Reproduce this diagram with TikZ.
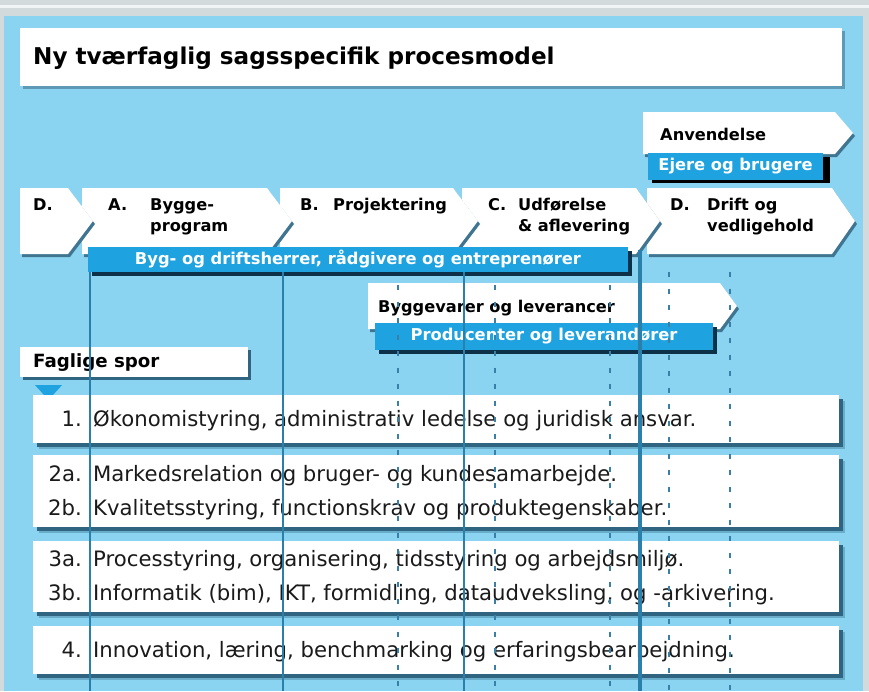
\documentclass[tikz,border=0pt]{standalone}
\usepackage{fontspec}
\setmainfont{DejaVu Sans}
\definecolor{framegray}{HTML}{D2DADC}
\definecolor{bgblue}{HTML}{8AD4F2}
\definecolor{barblue}{HTML}{1FA2E0}
\definecolor{barshadow}{HTML}{0D3148}
\definecolor{boxshadow}{HTML}{2F6580}
\definecolor{chshadow}{HTML}{3F7590}
\definecolor{titleshadow}{HTML}{5E9AB6}
\definecolor{lineteal}{HTML}{2A80AA}
\definecolor{dashteal}{HTML}{3A7FA6}
\definecolor{txt}{HTML}{1A1A1A}
\newcommand{\chevron}[5]{%
  \fill[chshadow] (#1+2,#4+3) -- (#2+2,#4+3) -- (#3+2,{(#4+#5)/2+3}) -- (#2+2,#5+3) -- (#1+2,#5+3) -- cycle;
  \fill[white] (#1,#4) -- (#2,#4) -- (#3,{(#4+#5)/2}) -- (#2,#5) -- (#1,#5) -- cycle;}
\begin{document}
\begin{tikzpicture}[x=1pt,y=-1pt,
  wbox/.style={fill=white, inner sep=0pt, outer sep=0pt, anchor=north west},
  bbar/.style={fill=barblue, inner sep=0pt, outer sep=0pt, anchor=north west, text=white, font=\bfseries\fontsize{16.3}{19}\selectfont},
  lab/.style={anchor=base west, inner sep=0pt, text=black, font=\bfseries\fontsize{16.2}{19}\selectfont},
  rowtxt/.style={anchor=base west, inner sep=0pt, text=txt, font=\fontsize{21.2}{24}\selectfont},
  rownum/.style={anchor=base east, inner sep=0pt, text=txt, font=\fontsize{21.2}{24}\selectfont},
  solidln/.style={draw=lineteal, line width=2.2pt},
  thickln/.style={draw=lineteal, line width=4pt},
  dashln/.style={draw=dashteal, line width=2.5pt, dash pattern=on 5pt off 11.5pt},
]
\useasboundingbox (0,0) rectangle (869,691);
% frame and background
\fill[framegray] (0,0) rectangle (869,691);
\fill[white!70!framegray] (0,5) rectangle (869,8);
\fill[bgblue] (4,16) rectangle (863,691);

% title
\fill[titleshadow] (23,31) rectangle (845,89);
\node[wbox, minimum width=822pt, minimum height=58pt] (titlebox) at (20,28) {};
\node[anchor=base west, inner sep=0pt, font=\bfseries\fontsize{23.1}{27}\selectfont] (title) at (33,64) {Ny tværfaglig sagsspecifik procesmodel};

% Anvendelse
\chevron{643}{835}{853}{112}{154}
\node[lab] (anv) at (660,140) {Anvendelse};
\fill[black] (652,157) rectangle (830,183);
\node[bbar, minimum width=175pt, minimum height=27pt] (ejere) at (648,153) {Ejere og brugere};

% phase chevrons (right to left so tips overlap)
\chevron{647}{832}{855}{188}{254}
\chevron{462}{636}{660}{188}{254}
\chevron{280}{453}{478}{188}{254}
\chevron{82}{267}{292}{188}{254}
\chevron{20}{68}{93}{188}{254}
\node[lab] (d1) at (33,210) {D.};
\node[lab] (a) at (108,210) {A.};
\node[lab] (a1) at (150,210) {Bygge-};
\node[lab] (a2) at (150,231) {program};
\node[lab] (b) at (300,210) {B.};
\node[lab] (b1) at (333,210) {Projektering};
\node[lab] (c) at (488,210) {C.};
\node[lab] (c1) at (518,210) {Udførelse};
\node[lab] (c2) at (518,231) {\& aflevering};
\node[lab] (d2) at (670,210) {D.};
\node[lab] (d21) at (707,210) {Drift og};
\node[lab] (d22) at (707,231) {vedligehold};

% Byg bar
\fill[barshadow] (92,251) rectangle (632,276);
\node[bbar, minimum width=540pt, minimum height=25pt] (byg) at (88,247) {Byg- og driftsherrer, rådgivere og entreprenører};

% Byggevarer
\chevron{368}{720}{737}{283}{329}
\node[lab] (bv) at (378,312) {Byggevarer og leverancer};
\fill[barshadow] (379,327) rectangle (717,354);
\node[bbar, minimum width=338pt, minimum height=27pt] (prod) at (375,323) {Producenter og leverandører};

% Faglige spor
\fill[boxshadow] (23,350) rectangle (251,380);
\node[wbox, minimum width=228pt, minimum height=30pt] (fagbox) at (20,347) {};
\node[anchor=base west, inner sep=0pt, font=\bfseries\fontsize{18.2}{21}\selectfont] (fag) at (33,367) {Faglige spor};
\fill[barblue] (35,385) -- (62,385) -- (48.5,400) -- cycle;

% rows
\foreach \t/\b in {395/443, 455/527, 541/612, 626/674}{
  \fill[boxshadow, opacity=.35] (39,\t+6) rectangle (845,\b+6);
  \fill[boxshadow] (37,\t+4) rectangle (843,\b+4);
  \fill[white] (33,\t) rectangle (839,\b);
}
\node[rownum] (n1) at (82,426) {1.};
\node[rowtxt] (t1) at (93,426) {Økonomistyring, administrativ ledelse og juridisk ansvar.};
\node[rownum] (n2a) at (82,481) {2a.};
\node[rowtxt] (t2a) at (93,481) {Markedsrelation og bruger- og kundesamarbejde.};
\node[rownum] (n2b) at (82,515) {2b.};
\node[rowtxt] (t2b) at (93,515) {Kvalitetsstyring, functionskrav og produktegenskaber.};
\node[rownum] (n3a) at (82,566) {3a.};
\node[rowtxt] (t3a) at (93,566) {Processtyring, organisering, tidsstyring og arbejdsmiljø.};
\node[rownum] (n3b) at (82,600) {3b.};
\node[rowtxt] (t3b) at (93,600) {Informatik (bim), IKT, formidling, dataudveksling, og -arkivering.};
\node[rownum] (n4) at (82,657) {4.};
\node[rowtxt] (t4) at (93,657) {Innovation, læring, benchmarking og erfaringsbearbejdning.};

% vertical lines
\coordinate (s1t) at (90,272);  \coordinate (s1b) at (90,691);
\coordinate (s2t) at (283,272); \coordinate (s2b) at (283,691);
\coordinate (s3t) at (464,272); \coordinate (s3b) at (464,691);
\coordinate (s4t) at (640,250); \coordinate (s4b) at (640,691);
\draw[solidln] (s1t) -- (s1b);
\draw[solidln] (s2t) -- (s2b);
\draw[solidln] (s3t) -- (s3b);
\draw[thickln] (s4t) -- (s4b);
\coordinate (k1t) at (398,285); \coordinate (k1b) at (398,691);
\coordinate (k2t) at (495,285); \coordinate (k2b) at (495,691);
\coordinate (k3t) at (610,285); \coordinate (k3b) at (610,691);
\coordinate (k4t) at (669,272); \coordinate (k4b) at (669,691);
\coordinate (k5t) at (730,272); \coordinate (k5b) at (730,691);
\foreach \k in {k1,k2,k3,k4,k5}{\draw[dashln] (\k t) -- (\k b);}
\end{tikzpicture}
\end{document}
